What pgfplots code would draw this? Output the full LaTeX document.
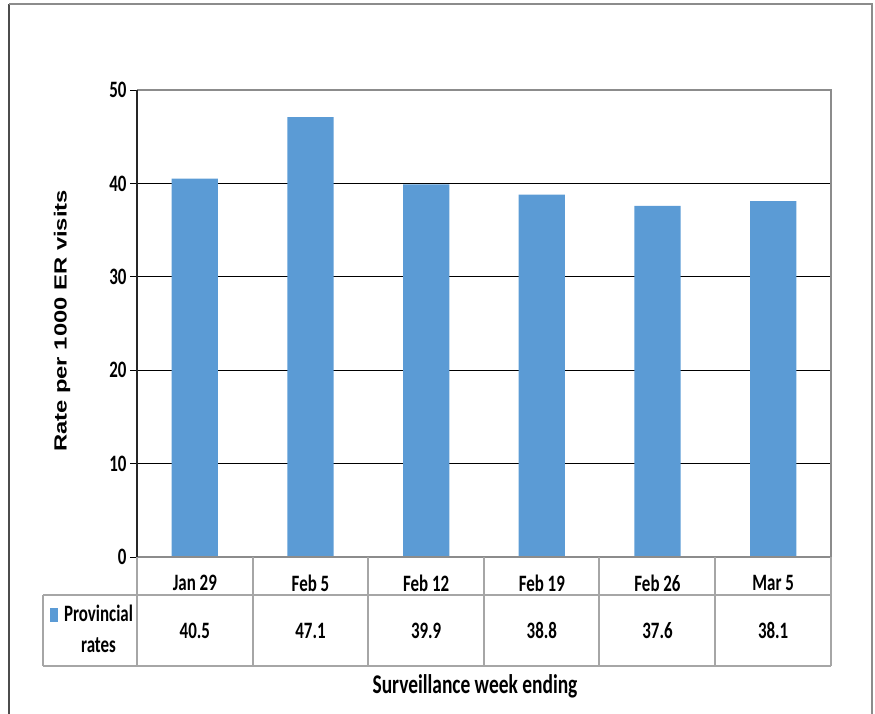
\documentclass[border=0pt]{standalone}
\usepackage{fontspec}
\setmainfont{Carlito}[FakeStretch=0.72]
\newfontfamily\arial{Liberation Sans}
\usepackage{graphicx}
\usepackage{pgfplots}
\pgfplotsset{compat=1.18}
\definecolor{barblue}{HTML}{5B9BD5}
\definecolor{tblgray}{HTML}{A6A6A6}
\definecolor{framegray}{HTML}{8C8C8C}
\newcommand{\lbl}{\fontsize{23.5}{27}\selectfont\bfseries}
\begin{document}
\begin{tikzpicture}
\begin{axis}[
  at={(137pt,156pt)}, anchor=south west,
  scale only axis, width=694pt, height=467pt,
  xmin=-0.5, xmax=5.5, ymin=0, ymax=50,
  xtick={0,...,5},
  xticklabels={Jan 29, Feb 5, Feb 12, Feb 19, Feb 26, Mar 5},
  xtick style={draw=none},
  xticklabel style={anchor=center, yshift=-19pt},
  ytick={0,10,...,50}, yticklabels={0,10,20,30,40,50},
  ytick pos=left,
  ymajorgrids, grid style={black, line width=0.8pt},
  tick align=outside, major tick length=7pt,
  ytick style={black, line width=0.8pt},
  axis line style={draw=none},
  tick label style={font=\lbl},
  clip=false,
]
\addplot[ybar, bar width=0.4, fill=barblue, draw=none]
  coordinates {(0,40.5) (1,47.1) (2,39.9) (3,38.8) (4,37.6) (5,38.1)};
\addplot[draw=none, mark=none, nodes near coords, point meta=explicit symbolic,
  every node near coord/.append style={anchor=center, font=\lbl}]
  coordinates {(0,-7.87)[40.5] (1,-7.87)[47.1] (2,-7.87)[39.9] (3,-7.87)[38.8] (4,-7.87)[37.6] (5,-7.87)[38.1]};
\draw[framegray, line width=2pt] (rel axis cs:0,0)--(rel axis cs:1,0)--(rel axis cs:1,1)--(rel axis cs:0,1);
\draw[black!85, line width=1.2pt] (rel axis cs:0,0)--(rel axis cs:0,1);
\end{axis}
% data table grid
\begin{scope}[tblgray, line width=1.3pt]
\draw (43pt,118pt)--(831pt,118pt);
\draw (43pt,47pt)--(831pt,47pt);
\draw (43pt,118pt)--(43pt,47pt);
\foreach \xx in {137,253,368,484,599,715,831} {\draw (\xx pt,156pt)--(\xx pt,47pt);}
\end{scope}
% legend cell
\fill[barblue] (50pt,91pt) rectangle (58pt,105pt);
\node[font=\lbl, align=center, inner sep=0pt] at (98.5pt,100pt) {Provincial};
\node[font=\lbl, align=center, inner sep=0pt] at (98.5pt,68pt) {rates};
% axis titles
\node[rotate=90, inner sep=0pt] at (62pt,392pt) {\scalebox{1}[0.74]{\arial\bfseries\fontsize{23.8}{28}\selectfont Rate per 1000 ER visits}};
\node[font=\fontsize{27}{31}\selectfont\bfseries, inner sep=0pt] at (475pt,27pt) {Surveillance week ending};
% outer frame
\draw[black!70, line width=1.2pt] (9pt,-5pt)--(9pt,709pt);
\draw[framegray, line width=1.2pt] (9pt,709pt)--(872pt,709pt)--(872pt,-5pt);
\pgfresetboundingbox
\useasboundingbox (0,0) rectangle (875pt,713pt);
\end{tikzpicture}
\end{document}
